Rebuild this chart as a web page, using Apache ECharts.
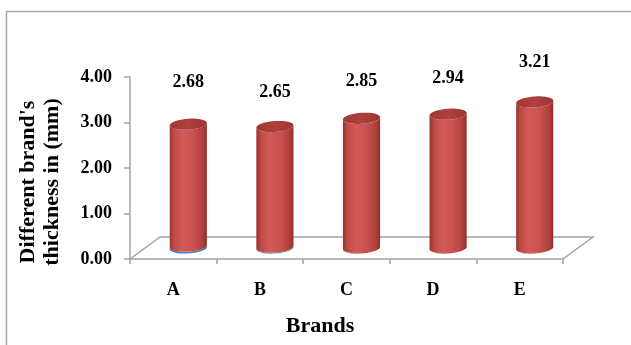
<!DOCTYPE html>
<html>
<head>
<meta charset="utf-8">
<script src="https://cdn.jsdelivr.net/npm/echarts@6/dist/echarts.min.js"></script>
<style>
  html, body { margin: 0; padding: 0; background: #fff; }
  #chart { width: 631px; height: 345px; }
</style>
</head>
<body>
<div id="chart"></div>
<script>
// Brand thickness values (mm)
const categories = ['A', 'B', 'C', 'D', 'E'];
const thickness = [2.68, 2.65, 2.85, 2.94, 3.21];
// thin lower segment of the stacked cylinders
const baseLayer = [0.04, 0.02, 0, 0, 0];
const yMin = 0, yMax = 4, yStep = 1;

// pseudo-3D depth of the floor plane (pixels)
const DX = 30, DY = -22;
// vertical nudge of each value label (pixels), perspective placement
const labelNudge = [-2, 6, 3, 4, 0];
const SERIF = '"Liberation Serif", "Times New Roman", serif';
const AXIS_GRAY = '#A3A3A3';

const chart = echarts.init(document.getElementById('chart'), null, { renderer: 'canvas' });

function ellipsePoint(cx, cy, rx, ry, rot, t) {
  const x = rx * Math.cos(t), y = ry * Math.sin(t);
  return [cx + x * Math.cos(rot) + y * Math.sin(rot), cy - x * Math.sin(rot) + y * Math.cos(rot)];
}

function cylinderBody(cx, yLow, yHigh, rx, ry, rot, fill) {
  const pts = [];
  const N = 24;
  for (let k = 0; k <= N; k++) { // lower rim, left -> right
    const t = Math.PI - (Math.PI * k) / N;
    pts.push(ellipsePoint(cx, yLow, rx, ry, rot, t));
  }
  for (let k = 0; k <= N; k++) { // upper rim front half, right -> left
    const t = (Math.PI * k) / N;
    pts.push(ellipsePoint(cx, yHigh, rx, ry, rot, t));
  }
  return { type: 'polygon', shape: { points: pts }, style: { fill: fill } };
}

function cap(cx, cy, rx, ry, rot, fill) {
  const pts = [];
  const N = 40;
  for (let k = 0; k < N; k++) pts.push(ellipsePoint(cx, cy, rx, ry, rot, (2 * Math.PI * k) / N));
  return { type: 'polygon', shape: { points: pts }, style: { fill: fill } };
}

const redBody = new echarts.graphic.LinearGradient(0, 0, 1, 0, [
  { offset: 0, color: '#9A332F' },
  { offset: 0.12, color: '#BE4A46' },
  { offset: 0.35, color: '#D25B57' },
  { offset: 0.62, color: '#CA5350' },
  { offset: 0.88, color: '#B0413D' },
  { offset: 1, color: '#922E2B' }
]);
const redTop = new echarts.graphic.LinearGradient(0, 0, 1, 0, [
  { offset: 0, color: '#A13835' },
  { offset: 0.5, color: '#AF403D' },
  { offset: 1, color: '#9C3532' }
]);
const blueBody = new echarts.graphic.LinearGradient(0, 0, 1, 0, [
  { offset: 0, color: '#3B6CA8' },
  { offset: 0.4, color: '#5C8FD0' },
  { offset: 1, color: '#3A68A2' }
]);

const option = {
  animation: false,
  backgroundColor: '#fff',
  grid: { left: 130, right: 68, top: 77, bottom: 86 },
  xAxis: {
    type: 'category',
    data: categories,
    axisLine: { show: true, lineStyle: { color: AXIS_GRAY, width: 1.5 } },
    axisTick: { show: true, length: 5, lineStyle: { color: AXIS_GRAY, width: 1.5 } },
    axisLabel: { color: '#000', fontFamily: SERIF, fontWeight: 'bold', fontSize: 18, margin: 22 },
    splitLine: { show: false }
  },
  yAxis: {
    type: 'value',
    min: yMin, max: yMax, interval: yStep,
    axisLine: { show: true, lineStyle: { color: AXIS_GRAY, width: 1.5 } },
    axisTick: { show: true, length: 6, lineStyle: { color: AXIS_GRAY, width: 1.5 } },
    axisLabel: {
      color: '#000', fontFamily: SERIF, fontWeight: 'bold', fontSize: 18, margin: 18,
      formatter: v => v.toFixed(2)
    },
    splitLine: { show: false }
  },
  graphic: [
    {
      type: 'rect', silent: true, z: -10,
      shape: { x: 6.5, y: 11.5, width: 700, height: 400 },
      style: { fill: 'none', stroke: '#A8A8A8', lineWidth: 1.5 }
    },
    {
      type: 'text', x: 40, y: 182, rotation: Math.PI / 2,
      style: {
        text: "Different brand's\nthickness in (mm)",
        font: 'bold 22px ' + SERIF, fill: '#000',
        align: 'center', verticalAlign: 'middle', lineHeight: 24
      }
    },
    {
      type: 'text', x: 320, y: 326,
      style: {
        text: 'Brands', font: 'bold 22px ' + SERIF, fill: '#000',
        align: 'center', verticalAlign: 'middle'
      }
    }
  ],
  series: [
    {
      // floor outline behind the cylinders
      type: 'custom',
      coordinateSystem: 'cartesian2d',
      data: [[0, 0]],
      z: 1,
      silent: true,
      renderItem: function (params, api) {
        const band = api.size([1, 0])[0];
        const first = api.coord([0, 0]);
        const last = api.coord([categories.length - 1, 0]);
        const x0 = first[0] - band / 2, x1 = last[0] + band / 2, y0 = first[1];
        return {
          type: 'polyline',
          shape: { points: [[x0, y0], [x0 + DX, y0 + DY], [x1 + DX, y0 + DY], [x1, y0]] },
          style: { fill: 'none', stroke: AXIS_GRAY, lineWidth: 1.5 }
        };
      }
    },
    {
      type: 'custom',
      coordinateSystem: 'cartesian2d',
      data: categories.map((c, i) => [i, baseLayer[i], thickness[i]]),
      encode: { x: 0, y: 2 },
      z: 3,
      renderItem: function (params, api) {
        const i = api.value(0), b = api.value(1), v = api.value(2);
        const band = api.size([1, 0])[0];
        const p0 = api.coord([i, 0]);
        const pb = api.coord([i, b]);
        const pt = api.coord([i, b + v]);
        const cx = p0[0] + DX / 2;
        const rx = band * 0.215, ry = 5.5, rot = 0.07;
        const yBase = p0[1] + DY / 2, yB = pb[1] + DY / 2, yT = pt[1] + DY / 2;
        const children = [];
        if (b > 0) children.push(cylinderBody(cx, yBase, yB, rx, ry, rot, blueBody));
        children.push(cylinderBody(cx, yB, yT, rx, ry, rot, redBody));
        children.push(cap(cx, yT, rx, ry, rot, redTop));
        children.push({
          type: 'text',
          style: {
            text: v.toFixed(2), x: cx, y: yT - 40 + labelNudge[params.dataIndex],
            align: 'center', verticalAlign: 'middle',
            font: 'bold 18px ' + SERIF, fill: '#000'
          }
        });
        return { type: 'group', children: children };
      }
    }
  ]
};

chart.setOption(option);
</script>
</body>
</html>
